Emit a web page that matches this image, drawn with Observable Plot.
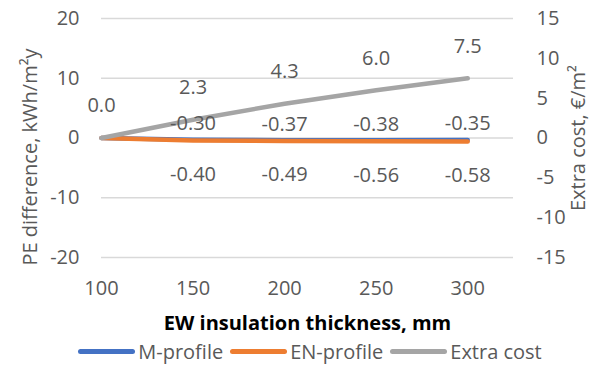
<!DOCTYPE html>
<html>
<head>
<meta charset="utf-8">
<script src="https://cdn.jsdelivr.net/npm/d3@7"></script>
<script src="https://cdn.jsdelivr.net/npm/@observablehq/plot@0.6"></script>
<style>
  html, body { margin: 0; padding: 0; background: #fff; }
  body { width: 598px; height: 370px; overflow: hidden; font-family: "Open Sans", sans-serif; }
  #legend { display: flex; justify-content: center; align-items: center; gap: 7px; height: 30px; font-size: 20px; color: #595959; margin-left: 22px; margin-top: -2px; }
  .sw { display: inline-block; width: 57px; height: 5px; border-radius: 3px; margin-right: 3px; }
  .item { display: flex; align-items: center; }
</style>
</head>
<body>
<div id="chart"></div>
<div id="legend"></div>
<script>
const thickness = [100, 150, 200, 250, 300];
const mProfile = [0, -0.30, -0.37, -0.38, -0.35];
const enProfile = [0, -0.40, -0.49, -0.56, -0.58];
const extraCost = [0.0, 2.3, 4.3, 6.0, 7.5];
const leftTicks = [-20, -10, 0, 10, 20];
const rightTicks = [-15, -10, -5, 0, 5, 10, 15];
const seriesNames = ["M-profile", "EN-profile", "Extra cost"];
const seriesColors = ["#4472C4", "#ED7D31", "#A5A5A5"];

const k = 20 / 15; // right axis to left axis factor

const mData = thickness.map((t, i) => ({t, v: mProfile[i]}));
const enData = thickness.map((t, i) => ({t, v: enProfile[i]}));
const ecData = thickness.map((t, i) => ({t, v: extraCost[i] * k, raw: extraCost[i]}));

const txt = "#595959";
const plot = Plot.plot({
  width: 598,
  height: 338,
  marginLeft: 101,
  marginRight: 85,
  marginTop: 18,
  marginBottom: 81,
  style: {fontFamily: "Open Sans, sans-serif", fontSize: "20px", color: txt, background: "#fff"},
  x: {domain: [100, 325], label: null},
  y: {domain: [-20, 20], label: null},
  marks: [
    Plot.ruleY(leftTicks, {stroke: "#D9D9D9", strokeWidth: 1.3}),
    Plot.axisY({ticks: leftTicks, tickSize: 0, tickPadding: 22, label: null, fill: txt, tickFormat: d => String(d)}),
    Plot.axisY(rightTicks.map(d => d * k), {anchor: "right", tickSize: 0, tickPadding: 23, label: null, fill: txt, tickFormat: d => String(Math.round(d / k))}),
    Plot.axisX({ticks: thickness, tickSize: 0, tickPadding: 23, label: null, fill: txt, tickFormat: d => String(d)}),
    Plot.line(mData, {x: "t", y: "v", stroke: seriesColors[0], strokeWidth: 4.5, strokeLinecap: "round"}),
    Plot.line(enData, {x: "t", y: "v", stroke: seriesColors[1], strokeWidth: 4.5, strokeLinecap: "round"}),
    Plot.line(ecData, {x: "t", y: "v", stroke: seriesColors[2], strokeWidth: 4.5, strokeLinecap: "round"}),
    Plot.text(ecData, {x: "t", y: "v", text: d => d.raw.toFixed(1), dy: -32, fill: txt}),
    Plot.text(mData.slice(1), {x: "t", y: "v", text: d => d.v.toFixed(2), dy: -16, fill: txt}),
    Plot.text(enData.slice(1), {x: "t", y: "v", text: d => d.v.toFixed(2), dy: 34, fill: txt}),
    Plot.text(["PE difference, kWh/m²y"], {frameAnchor: "left", textAnchor: "middle", rotate: -90, dx: -71, dy: 19, fill: txt}),
    Plot.text(["Extra cost, €/m²"], {frameAnchor: "right", textAnchor: "middle", rotate: -90, dx: 65, dy: 0, fill: txt}),
    Plot.text(["EW insulation thickness, mm"], {frameAnchor: "bottom", dy: 72, fill: "#000", fontWeight: "bold"})
  ]
});
document.getElementById("chart").appendChild(plot);

const legend = document.getElementById("legend");
seriesNames.forEach((n, i) => {
  const it = document.createElement("span");
  it.className = "item";
  const sw = document.createElement("span");
  sw.className = "sw";
  sw.style.background = seriesColors[i];
  it.appendChild(sw);
  it.appendChild(document.createTextNode(n));
  legend.appendChild(it);
});
</script>
</body>
</html>
